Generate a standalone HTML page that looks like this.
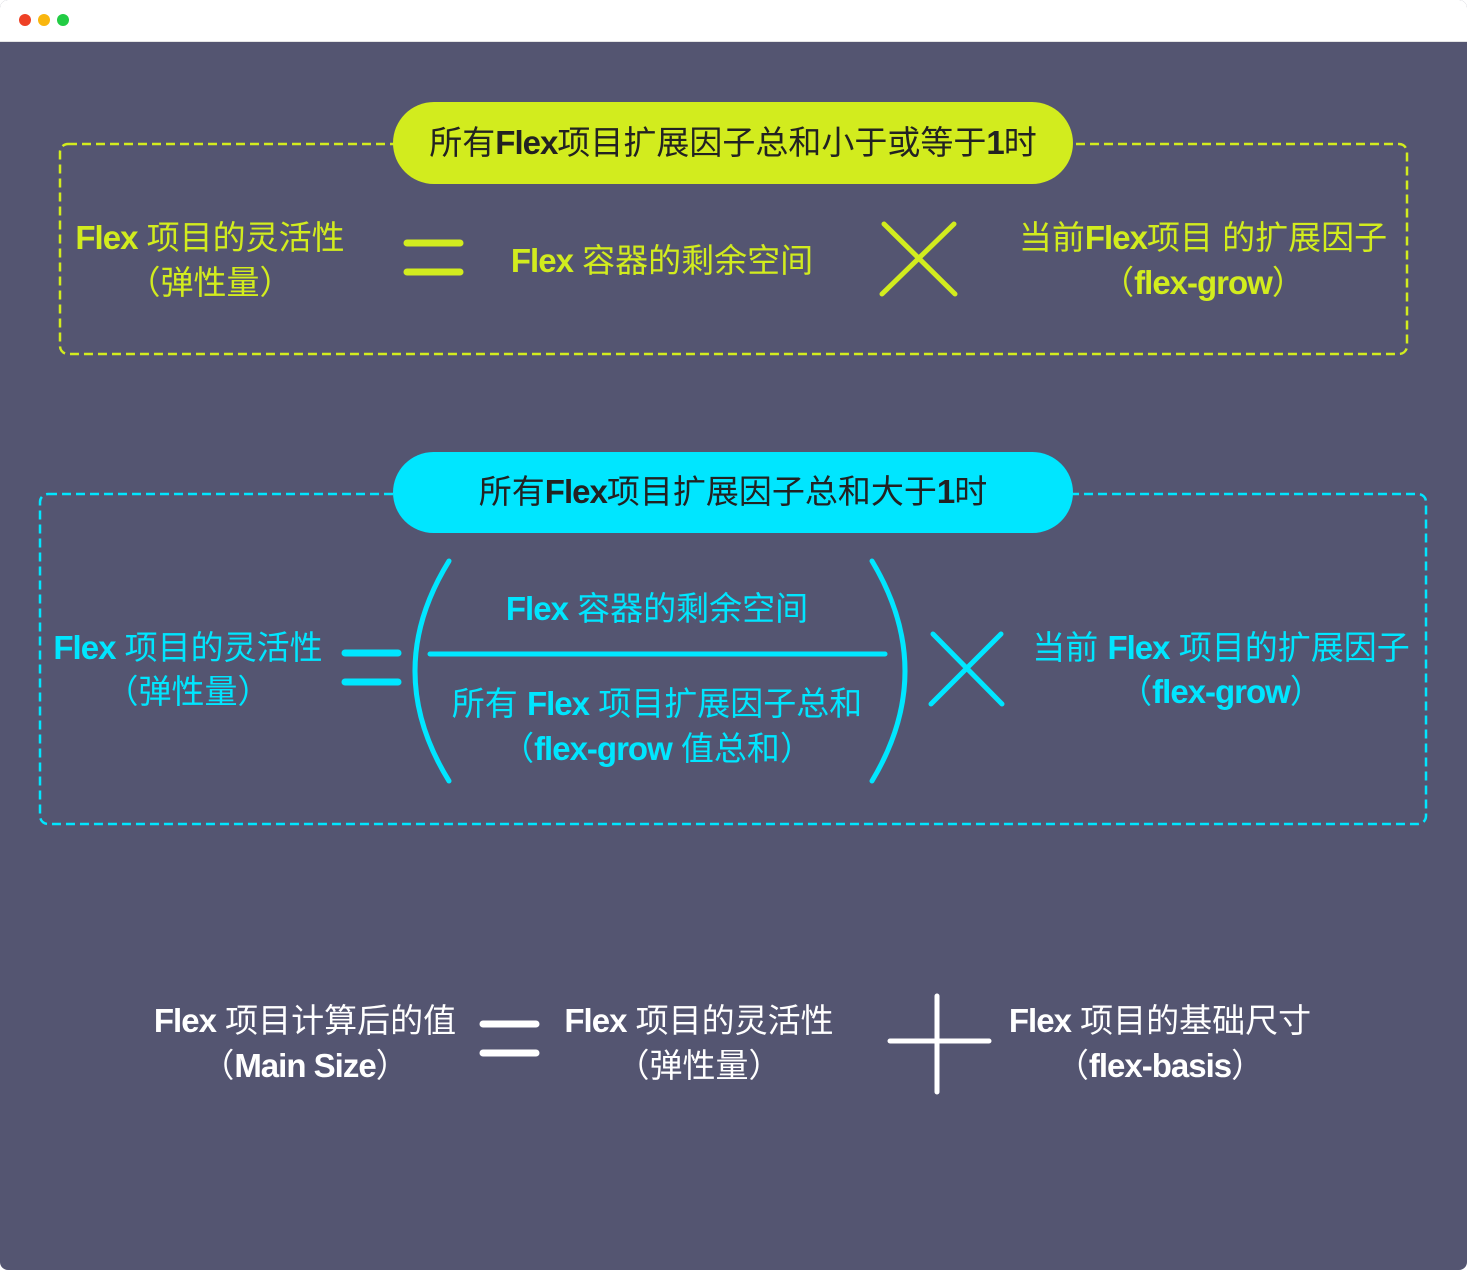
<!DOCTYPE html>
<html><head><meta charset="utf-8"><style>
html,body{margin:0;padding:0;width:1467px;height:1270px;overflow:hidden;background:#fff}
.win{position:absolute;left:0;top:0;width:1467px;height:1270px;border-radius:8px;overflow:hidden;background:#545571}
.hdr{position:absolute;left:0;top:0;width:1467px;height:41px;background:#fff;border-bottom:1px solid #e4e4e4}
.d{position:absolute;top:14px;width:12px;height:12px;border-radius:50%}
.t{position:absolute;white-space:nowrap;transform:translateX(-50%);font-family:"Liberation Sans","Noto Sans CJK SC",sans-serif;font-size:33px;line-height:40px}
.t b{font-weight:bold;letter-spacing:-1px}
.y{color:#d2ec1e}.c{color:#00e6ff}.w{color:#fff}.k{color:#222}
svg{position:absolute;left:0;top:0}
</style></head><body>
<div class="win">
<div class="hdr"></div>
<div class="d" style="left:19px;background:#ee4126"></div>
<div class="d" style="left:38px;background:#f9b60e"></div>
<div class="d" style="left:57px;background:#22cc44"></div>
<svg width="1467" height="1270">
<rect x="60" y="144" width="1347" height="210" rx="8" fill="none" stroke="#d2ec1e" stroke-width="2.5" stroke-dasharray="9,5"/>
<rect x="393" y="102" width="680" height="82" rx="41" fill="#d2ec1e"/>
<g stroke="#d2ec1e" stroke-width="7" stroke-linecap="round">
<line x1="407" y1="243" x2="460" y2="243"/><line x1="407" y1="272" x2="460" y2="272"/>
</g>
<g stroke="#d2ec1e" stroke-width="5" stroke-linecap="round">
<line x1="884" y1="224" x2="955" y2="294"/><line x1="954" y1="224" x2="882" y2="294"/>
</g>
<rect x="40" y="494" width="1386" height="330" rx="8" fill="none" stroke="#00e6ff" stroke-width="2.5" stroke-dasharray="9,5"/>
<rect x="393" y="452" width="680" height="81" rx="40.5" fill="#00e6ff"/>
<g stroke="#00e6ff" stroke-width="7" stroke-linecap="round">
<line x1="345" y1="653" x2="398" y2="653"/><line x1="345" y1="682" x2="398" y2="682"/>
</g>
<g stroke="#00e6ff" stroke-width="5" stroke-linecap="round" fill="none">
<path d="M449 561 Q381 671 449 781"/><path d="M872 561 Q938 671 872 781"/>
<line x1="430" y1="654" x2="885" y2="654"/>
<line x1="933" y1="634" x2="1002" y2="704"/><line x1="1001" y1="634" x2="931" y2="704"/>
</g>
<g stroke="#fff" stroke-width="7" stroke-linecap="round">
<line x1="483" y1="1024" x2="536" y2="1024"/><line x1="483" y1="1053" x2="536" y2="1053"/>
</g>
<g stroke="#fff" stroke-width="5" stroke-linecap="round">
<line x1="937" y1="996" x2="937" y2="1092"/><line x1="890" y1="1041" x2="989" y2="1041"/>
</g>
</svg>
<div class="t k" style="left:733px;top:123px">所有<b>Flex</b>项目扩展因子总和小于或等于<b>1</b>时</div>
<div class="t y" style="left:210px;top:218px"><b>Flex</b> 项目的灵活性</div>
<div class="t y" style="left:210px;top:263px">（弹性量）</div>
<div class="t y" style="left:662px;top:241px"><b>Flex</b> 容器的剩余空间</div>
<div class="t y" style="left:1203px;top:218px">当前<b>Flex</b>项目 的扩展因子</div>
<div class="t y" style="left:1203px;top:263px">（<b>flex-grow</b>）</div>

<div class="t k" style="left:733px;top:472px">所有<b>Flex</b>项目扩展因子总和大于<b>1</b>时</div>
<div class="t c" style="left:188px;top:628px"><b>Flex</b> 项目的灵活性</div>
<div class="t c" style="left:188px;top:672px">（弹性量）</div>
<div class="t c" style="left:657px;top:589px"><b>Flex</b> 容器的剩余空间</div>
<div class="t c" style="left:657px;top:684px">所有 <b>Flex</b> 项目扩展因子总和</div>
<div class="t c" style="left:657px;top:729px">（<b>flex-grow</b> 值总和）</div>
<div class="t c" style="left:1221px;top:628px">当前 <b>Flex</b> 项目的扩展因子</div>
<div class="t c" style="left:1221px;top:672px">（<b>flex-grow</b>）</div>

<div class="t w" style="left:305px;top:1001px"><b>Flex</b> 项目计算后的值</div>
<div class="t w" style="left:305px;top:1046px">（<b>Main Size</b>）</div>
<div class="t w" style="left:699px;top:1001px"><b>Flex</b> 项目的灵活性</div>
<div class="t w" style="left:699px;top:1046px">（弹性量）</div>
<div class="t w" style="left:1160px;top:1001px"><b>Flex</b> 项目的基础尺寸</div>
<div class="t w" style="left:1160px;top:1046px">（<b>flex-basis</b>）</div>
</div>
</body></html>
